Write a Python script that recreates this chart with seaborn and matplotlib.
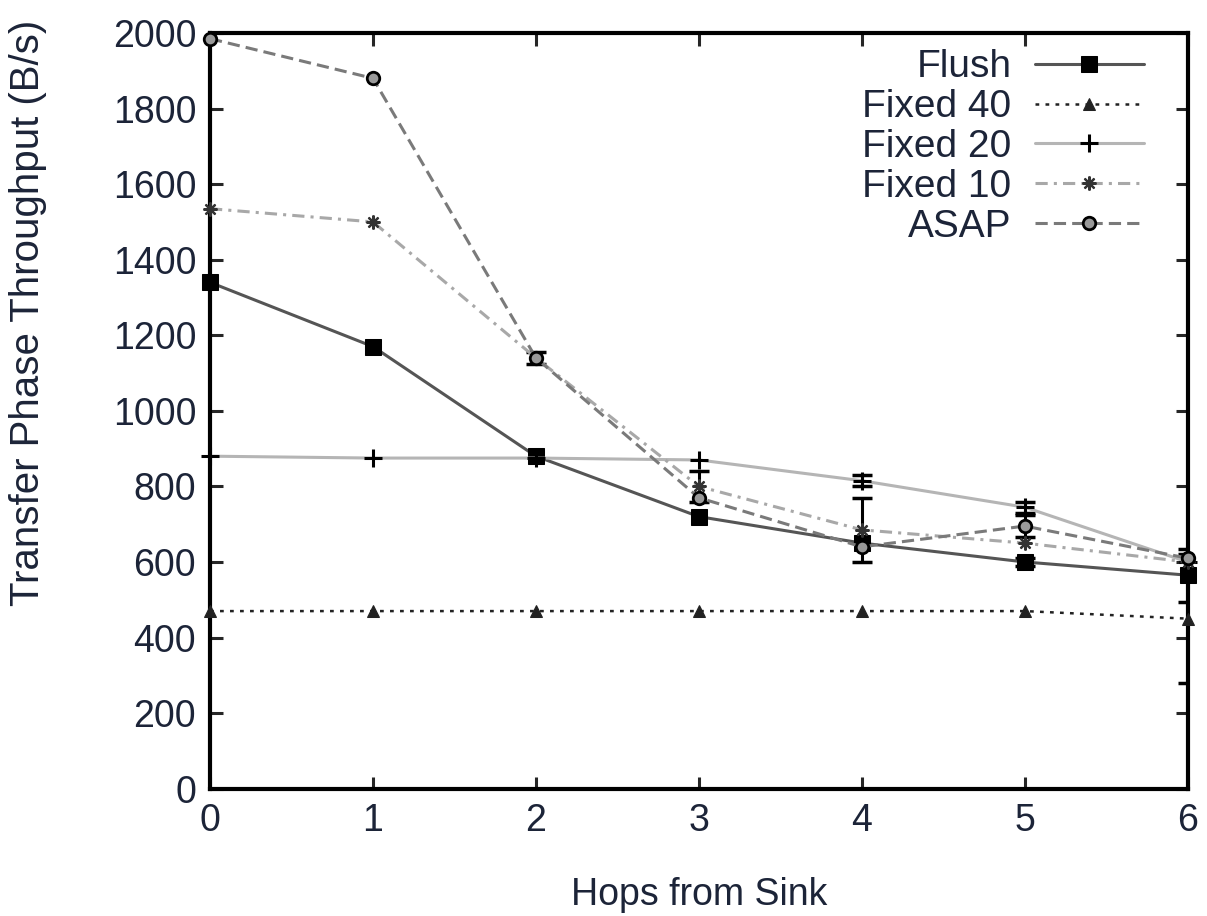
import numpy as np
import seaborn as sns
import matplotlib.pyplot as plt

# values
hops = [0, 1, 2, 3, 4, 5, 6]
flush = [1340, 1170, 880, 720, 650, 600, 565]
fixed40 = [470, 470, 470, 470, 470, 470, 450]
fixed20 = [880, 875, 875, 870, 815, 745, 600]
fixed10 = [1535, 1500, 1140, 800, 685, 650, 600]
asap = [1985, 1880, 1140, 770, 640, 695, 610]

flush_err = [0, 0, 0, 0, 0, 10, 70]
fixed40_err = [0, 0, 0, 0, 0, 0, 170]
fixed20_err = [0, 0, 0, 0, 15, 15, 0]
fixed10_err = [0, 0, 0, 40, 85, 0, 0]
asap_err = [0, 0, 15, 0, 0, 30, 0]

y_ticks = [0, 200, 400, 600, 800, 1000, 1200, 1400, 1600, 1800, 2000]

sns.set_style("ticks")
plt.rcParams['font.family'] = ['Liberation Sans', 'DejaVu Sans']
txt = '#1c2438'

fig = plt.figure(figsize=(12.07, 9.16), dpi=100)
ax = fig.add_axes([0.174, 0.139, 0.81, 0.825])

series = [
    ("Flush", flush, flush_err, dict(color='#555555', linestyle='-', lw=2.2, marker='s',
                                     markersize=11, markerfacecolor='black', markeredgecolor='black')),
    ("Fixed 40", fixed40, fixed40_err, dict(color='#222222', linestyle=(0, (1.5, 2.5)), lw=1.8, marker='^',
                                            markersize=8, markerfacecolor='#222222', markeredgecolor='#222222')),
    ("Fixed 20", fixed20, fixed20_err, dict(color='#b5b5b5', linestyle='-', lw=2.2, marker='+',
                                            markersize=13, markeredgewidth=2.2, markeredgecolor='black')),
    ("Fixed 10", fixed10, fixed10_err, dict(color='#a8a8a8', linestyle=(0, (4, 2, 1, 2)), lw=2.2, marker=(8, 2, 0),
                                            markersize=10, markeredgewidth=1.6, markeredgecolor='#333333')),
    ("ASAP", asap, asap_err, dict(color='#7a7a7a', linestyle=(0, (4, 2)), lw=2.2, marker='o',
                                  markersize=9, markerfacecolor='#999999', markeredgecolor='black',
                                  markeredgewidth=2)),
]

for name, vals, err, kw in series:
    sns.lineplot(x=hops, y=vals, ax=ax, label=name, clip_on=False, zorder=3, **kw)
    e = np.array(err)
    m = e > 0
    if m.any():
        ax.errorbar(np.array(hops)[m], np.array(vals)[m], yerr=e[m], fmt='none',
                    ecolor='black', elinewidth=2.2, capsize=7, capthick=2.5)

ax.set_xlim(0, 6)
ax.set_ylim(0, 2000)
ax.set_xticks(hops)
ax.set_yticks(y_ticks)
for s in ax.spines.values():
    s.set_visible(True)
    s.set_linewidth(3)
    s.set_color('black')
    s.set_zorder(2)
ax.tick_params(direction='in', length=9, width=2.2, top=True, right=True,
               labelsize=27, labelcolor=txt, pad=10)
ax.set_xlabel("Hops from Sink", fontsize=27, color=txt, labelpad=28)
ax.set_ylabel("Transfer Phase Throughput (B/s)", fontsize=29, color=txt)
ax.yaxis.set_label_coords(-0.167, 0.63)

leg = ax.legend(loc='upper right', bbox_to_anchor=(0.971, 0.999), frameon=False, markerfirst=False,
                fontsize=28, handlelength=2.8, labelspacing=0.1, borderaxespad=0, handletextpad=0.6)
for t in leg.get_texts():
    t.set_color(txt)

fig.savefig("out.png", dpi=100)
